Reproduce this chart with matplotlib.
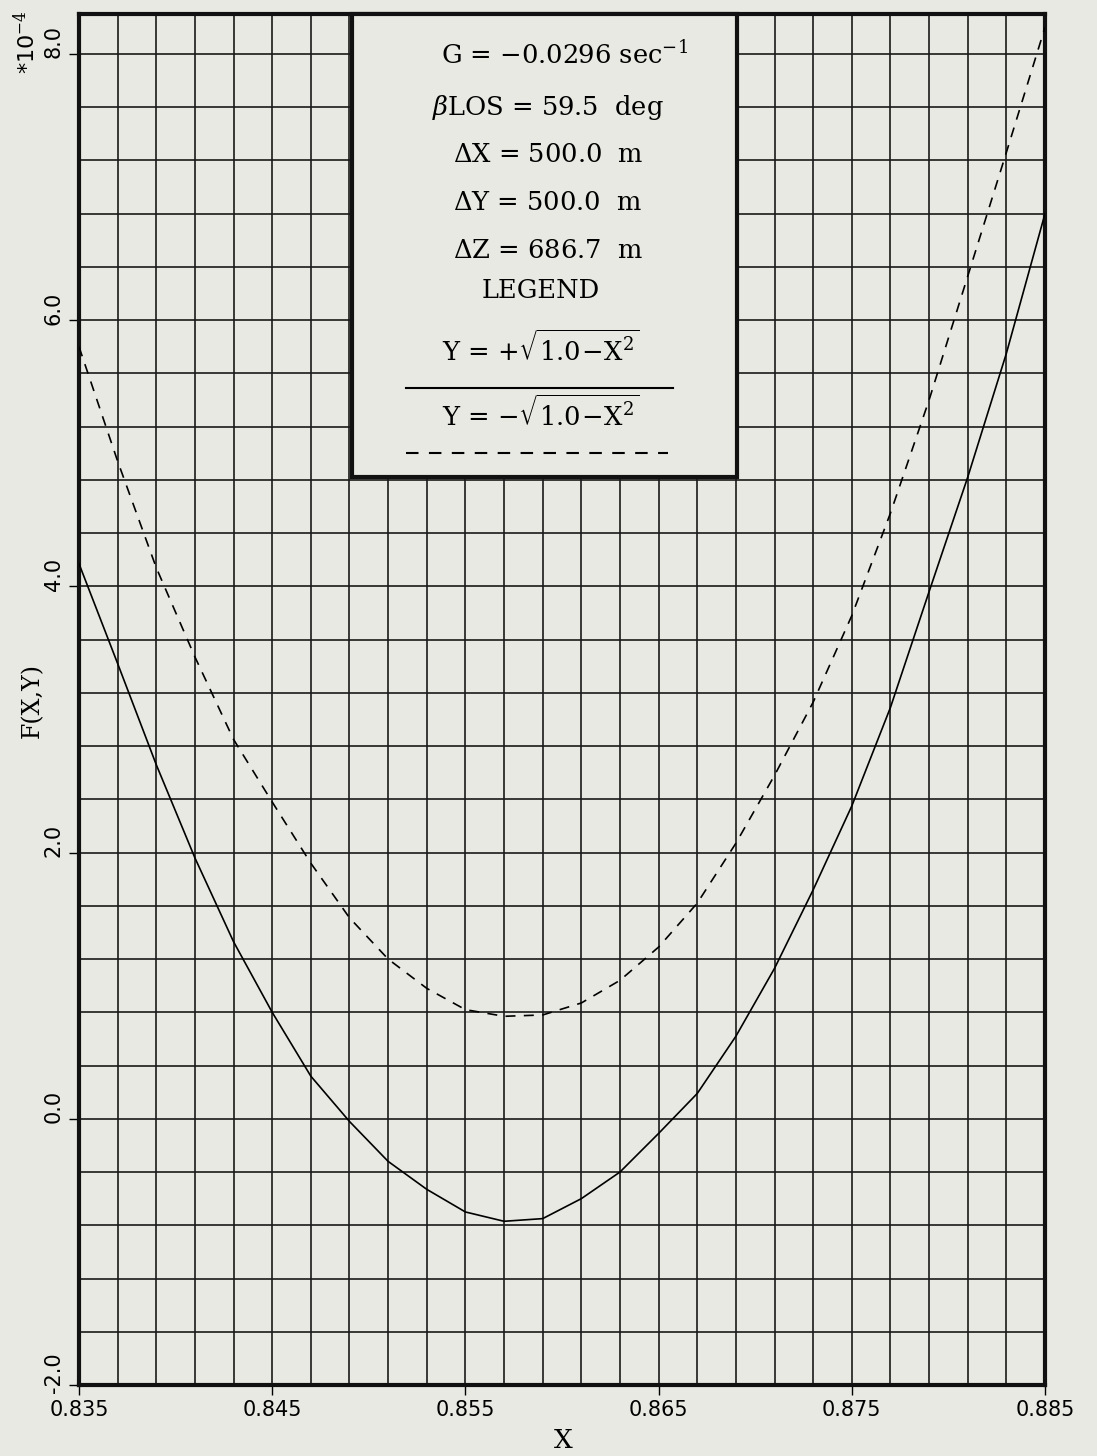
import numpy as np
import matplotlib.pyplot as plt
import matplotlib.transforms as mtransforms
from matplotlib.patches import Rectangle

# valores (F en unidades de 1e-4)
x_vals = [0.835, 0.837, 0.839, 0.841, 0.843, 0.845, 0.847, 0.849, 0.851,
          0.853, 0.855, 0.857, 0.859, 0.861, 0.863, 0.865, 0.867, 0.869,
          0.871, 0.873, 0.875, 0.877, 0.879, 0.881, 0.883, 0.885]
f_plus = [4.17, 3.42, 2.66, 1.96, 1.33, 0.80, 0.32, -0.02, -0.32,
          -0.53, -0.70, -0.77, -0.75, -0.60, -0.40, -0.11, 0.19, 0.62,
          1.13, 1.72, 2.35, 3.09, 3.96, 4.82, 5.75, 6.80]
f_minus = [5.80, 4.94, 4.14, 3.47, 2.85, 2.38, 1.92, 1.51, 1.20,
           0.98, 0.82, 0.77, 0.78, 0.87, 1.04, 1.29, 1.62, 2.07,
           2.58, 3.13, 3.78, 4.55, 5.40, 6.33, 7.26, 8.20]

x_ticks = [0.835, 0.845, 0.855, 0.865, 0.875, 0.885]
x_ticklabels = ['0.835', '0.845', '0.855', '0.865', '0.875', '0.885']
y_ticks = [-2.0, 0.0, 2.0, 4.0, 6.0, 8.0]
y_ticklabels = ['-2.0', '0.0', '2.0', '4.0', '6.0', '8.0']

info_lines = [r'G = $-$0.0296 sec$^{-1}$',
              r'$\beta$LOS = 59.5  deg',
              r'$\Delta$X = 500.0  m',
              r'$\Delta$Y = 500.0  m',
              r'$\Delta$Z = 686.7  m',
              'LEGEND']
legend_plus = r'Y = +$\sqrt{1.0\!-\!\mathrm{X}^2}$'
legend_minus = r'Y = $-\sqrt{1.0\!-\!\mathrm{X}^2}$'

bg = '#e8e9e2'
W, H = 1097, 1456
plt.rcParams['mathtext.fontset'] = 'dejavuserif'

def fx(px):
    return px / W

def fy(py):
    return 1 - py / H

fig = plt.figure(figsize=(W / 100, H / 100), dpi=100, facecolor=bg)
ax = fig.add_axes([fx(79), fy(1385), fx(1045) - fx(79), fy(14) - fy(1385)])
ax.set_facecolor(bg)

ax.plot(x_vals, f_plus, color='black', linewidth=1.2, zorder=3)
ax.plot(x_vals, f_minus, color='black', linewidth=1.2, dashes=(6, 5), zorder=3)

ax.set_xlim(0.835, 0.885)
ax.set_ylim(-2.0, 8.3)
ax.set_xticks(x_ticks)
ax.set_xticklabels(x_ticklabels, fontsize=15, family='DejaVu Sans')
ax.set_xticks(np.arange(0.835, 0.8851, 0.002), minor=True)
ax.set_yticks(y_ticks)
ax.set_yticklabels(y_ticklabels, fontsize=15, family='DejaVu Sans', rotation=90, va='center')
ax.set_yticks(np.arange(-2.0, 8.01, 0.4), minor=True)
ax.tick_params(which='major', direction='out', length=7, width=1, pad=4, color='black')
ax.tick_params(which='minor', length=0)
ax.grid(which='both', color='#1a1a1a', linewidth=1.2, zorder=1)
ax.set_axisbelow(True)
for s in ax.spines.values():
    s.set_linewidth(3)
    s.set_color('#111111')

# las etiquetas del eje y van un poco por encima de la marca
shift = mtransforms.ScaledTranslation(0, 0.12, fig.dpi_scale_trans)
for lbl in ax.get_yticklabels():
    lbl.set_transform(lbl.get_transform() + shift)

# caja de leyenda
box = Rectangle((fx(352), fy(477)), fx(737) - fx(352), fy(14) - fy(477),
                transform=fig.transFigure, facecolor=bg, edgecolor='#111111',
                linewidth=3, zorder=5)
fig.patches.append(box)

line_y = [55, 107, 155, 202, 250, 290]
line_x = [565, 548, 548, 548, 548, 541]
for txt, px, py in zip(info_lines, line_x, line_y):
    fig.text(fx(px), fy(py), txt, ha='center', va='center', fontsize=18.5,
             family='DejaVu Serif', zorder=6)

fig.text(fx(541), fy(348), legend_plus, ha='center', va='center', fontsize=18.5,
         family='DejaVu Serif', zorder=6)
fig.text(fx(541), fy(413), legend_minus, ha='center', va='center', fontsize=18.5,
         family='DejaVu Serif', zorder=6)
fig.add_artist(plt.Line2D([fx(406), fx(673)], [fy(388), fy(388)], color='black',
                          linewidth=1.5, zorder=6))
fig.add_artist(plt.Line2D([fx(406), fx(668)], [fy(453), fy(453)], color='black',
                          linewidth=1.5, dashes=(6, 5), zorder=6))

# etiquetas de ejes
fig.text(fx(26), fy(42), r'*10$^{-4}$', rotation=90, ha='center', va='center',
         fontsize=16, family='DejaVu Sans')
fig.text(fx(32), fy(700), 'F(X,Y)', rotation=90, ha='center', va='center',
         fontsize=17, family='DejaVu Serif')
fig.text(fx(563), fy(1440), 'X', ha='center', va='center', fontsize=19,
         family='DejaVu Serif')

fig.savefig('out.png', dpi=100, facecolor=bg)
